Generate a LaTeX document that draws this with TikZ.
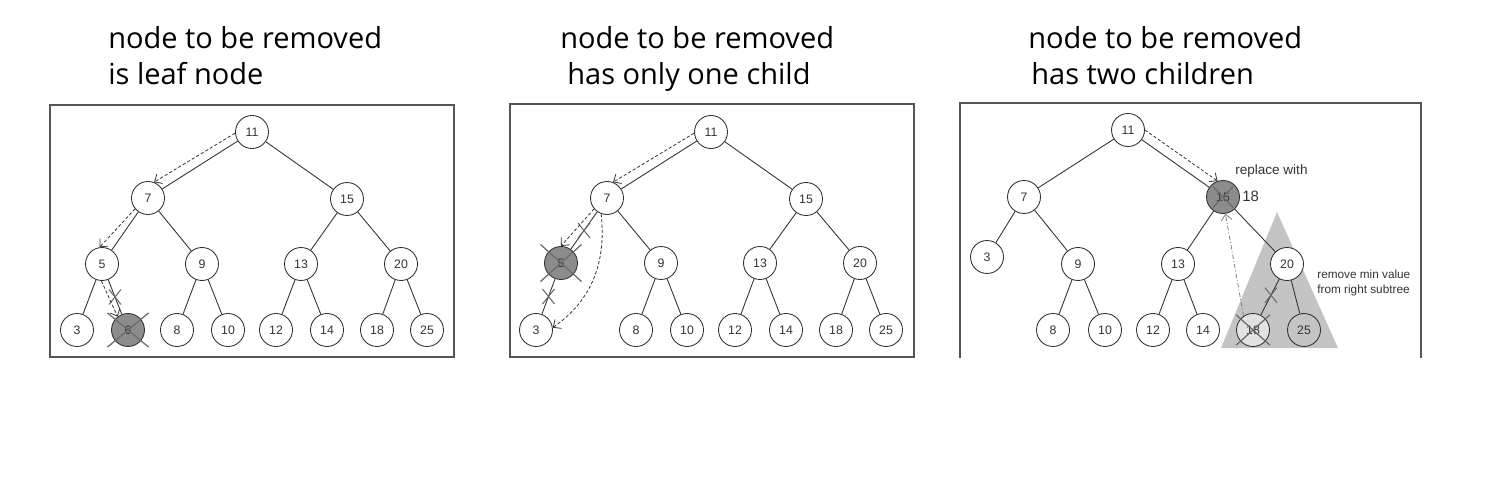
\documentclass[tikz,border=0pt]{standalone}
\usepackage{fontspec}
\setmainfont{Liberation Sans}
\newfontfamily\titlefont{Open Sans}
\usetikzlibrary{arrows.meta,shapes.misc}

\definecolor{edgegray}{HTML}{333333}
\definecolor{framegray}{HTML}{555555}
\definecolor{delgray}{HTML}{8C8C8C}
\definecolor{subtreegray}{HTML}{C4C4C4}
\definecolor{mingray}{HTML}{E2E2E2}
\definecolor{crossgray}{HTML}{6A6A6A}

\tikzset{
  bst/.style={circle, draw=edgegray, fill=white, line width=0.5pt, minimum size=0.66cm,
    inner sep=0pt, text=edgegray, font=\fontsize{7}{8}\selectfont},
  removed/.style={bst, fill=delgray},
  link/.style={edgegray, line width=0.5pt},
  frame/.style={framegray, line width=1pt},
  xmark/.style={cross out, draw=crossgray, line width=0.7pt, inner sep=0pt},
  edgex/.style={cross out, draw=crossgray, line width=0.6pt, minimum width=0.22cm,
    minimum height=0.28cm, inner sep=0pt},
  walk/.style={edgegray, line width=0.45pt, dash pattern=on 1.8pt off 1.2pt,
    -{Straight Barb[length=1.2mm,width=2.2mm]}},
  title/.style={anchor=base west, inner sep=0pt, font=\titlefont\fontsize{16.5}{19}\selectfont},
  note/.style={anchor=west, inner sep=0pt, text=edgegray, align=left},
}

\begin{document}
\begin{tikzpicture}[x=0.02cm, y=-0.02cm]
\useasboundingbox (0,0) rectangle (1497,486);

% titles
    \node[title] (t1a) at (108,49) {node to be removed};
    \node[title] (t1b) at (108,85) {is leaf node};
    \node[title] (t2a) at (560,49) {node to be removed};
    \node[title] (t2b) at (567,85) {has only one child};
    \node[title] (t3a) at (1028,49) {node to be removed};
    \node[title] (t3b) at (1031,85) {has two children};

% frames
    \draw[frame] (50,105) rectangle (454,357);
    \draw[frame] (510,104) rectangle (914,357);
    \draw[frame] (960,358) -- (960,103) -- (1421,103) -- (1421,358);

% ---------- case 1: leaf node ----------
    \node[bst] (a11) at (252,132) {11};
    \node[bst] (a7)  at (148,198) {7};
    \node[bst] (a15) at (347,199) {15};
    \node[bst] (a5)  at (102,264) {5};
    \node[bst] (a9)  at (202,264) {9};
    \node[bst] (a13) at (301,264) {13};
    \node[bst] (a20) at (401,264) {20};
    \node[bst] (a3)  at (77,330)  {3};
    \node[removed] (a6) at (128,330) {6};
    \node[bst] (a8)  at (177,330) {8};
    \node[bst] (a10) at (228,330) {10};
    \node[bst] (a12) at (276,330) {12};
    \node[bst] (a14) at (327,330) {14};
    \node[bst] (a18) at (377,330) {18};
    \node[bst] (a25) at (427,330) {25};
% edges
    \draw[link] (a11) -- (a7)  (a11) -- (a15)
                (a7) -- (a5)   (a7) -- (a9)
                (a15) -- (a13) (a15) -- (a20)
                (a5) -- (a3)   (a9) -- (a8)  (a9) -- (a10)
                (a13) -- (a12) (a13) -- (a14)
                (a20) -- (a18) (a20) -- (a25);
    \draw[link] (a5) -- node[edgex] (a56x) {} (a6);
    \node[xmark, minimum width=0.8cm, minimum height=0.66cm] (a6x) at (a6) {};
% search path
    \draw[walk] (a11.184) -- (a7.69);
    \draw[walk] (a7.220) -- (a5.98);
    \draw[walk] (a5.268) -- (a6.128);

% ---------- case 2: one child ----------
    \node[bst] (b11) at (711,132) {11};
    \node[bst] (b7)  at (607,198) {7};
    \node[bst] (b15) at (806,199) {15};
    \node[removed] (b5) at (561,263) {5};
    \node[bst] (b9)  at (661,263) {9};
    \node[bst] (b13) at (760,263) {13};
    \node[bst] (b20) at (860,263) {20};
    \node[bst] (b3)  at (536,330) {3};
    \node[bst] (b8)  at (636,330) {8};
    \node[bst] (b10) at (687,330) {10};
    \node[bst] (b12) at (735,330) {12};
    \node[bst] (b14) at (786,330) {14};
    \node[bst] (b18) at (836,330) {18};
    \node[bst] (b25) at (886,330) {25};
% edges
    \draw[link] (b11) -- (b7)  (b11) -- (b15)
                (b7) -- (b9)
                (b15) -- (b13) (b15) -- (b20)
                (b9) -- (b8)   (b9) -- (b10)
                (b13) -- (b12) (b13) -- (b14)
                (b20) -- (b18) (b20) -- (b25);
    \draw[link] (b7) -- node[edgex] (b75x) {} (b5);
    \draw[link] (b5) -- node[edgex] (b53x) {} (b3);
    \node[xmark, minimum width=0.8cm, minimum height=0.72cm] (b5x) at (b5) {};
% search path and relink
    \draw[walk] (b11.184) -- (b7.69);
    \draw[walk] (b7.220) -- (b5.90);
    \draw[walk] (b7.250) to[out=-84, in=35] (b3.8);

% ---------- case 3: two children ----------
    \fill[subtreegray] (1277,212) -- (1221,348) -- (1338,348) -- cycle;
    \node[bst] (c11) at (1128,130) {11};
    \node[bst] (c7)  at (1024,197) {7};
    \node[removed] (c15) at (1223,197) {15};
    \node[bst] (c3)  at (987,257)  {3};
    \node[bst] (c9)  at (1078,264) {9};
    \node[bst] (c13) at (1178,264) {13};
    \node[bst] (c20) at (1287,264) {20};
    \node[bst] (c8)  at (1053,330) {8};
    \node[bst] (c10) at (1105,330) {10};
    \node[bst] (c12) at (1153,330) {12};
    \node[bst] (c14) at (1203,330) {14};
    \node[bst, fill=mingray] (c18) at (1253,330) {18};
    \node[bst, fill=none] (c25) at (1304,330) {25};
% edges
    \draw[link] (c11) -- (c7)  (c11) -- (c15)
                (c7) -- (c3)   (c7) -- (c9)
                (c9) -- (c8)   (c9) -- (c10)
                (c15) -- (c13) (c15) -- (c20)
                (c13) -- (c12) (c13) -- (c14)
                (c20) -- (c25);
    \draw[link] (c20) -- node[edgex, pos=0.45] (c2018x) {} (c18);
    \node[xmark, minimum width=0.38cm, minimum height=0.4cm] (c15x) at (c15) {};
    \node[xmark, minimum width=0.65cm, minimum height=0.58cm] (c18x) at (c18) {};
% search path and replacement
    \draw[walk] (c11.0) -- (c15.109);
    \draw[walk, gray, dash pattern=on 2.5pt off 1.2pt on 0.6pt off 1.2pt] (c18.124) -- (c15.278);
% labels
    \node[note, font=\fontsize{7.7}{9}\selectfont] (lrep) at (1235,171) {replace with};
    \node[note, font=\fontsize{8.5}{10}\selectfont] (l18) at (1242,196) {18};
    \node[note, font=\fontsize{6.7}{8.5}\selectfont] (lmin) at (1317,283) {remove min value\\from right subtree};

\end{tikzpicture}
\end{document}
